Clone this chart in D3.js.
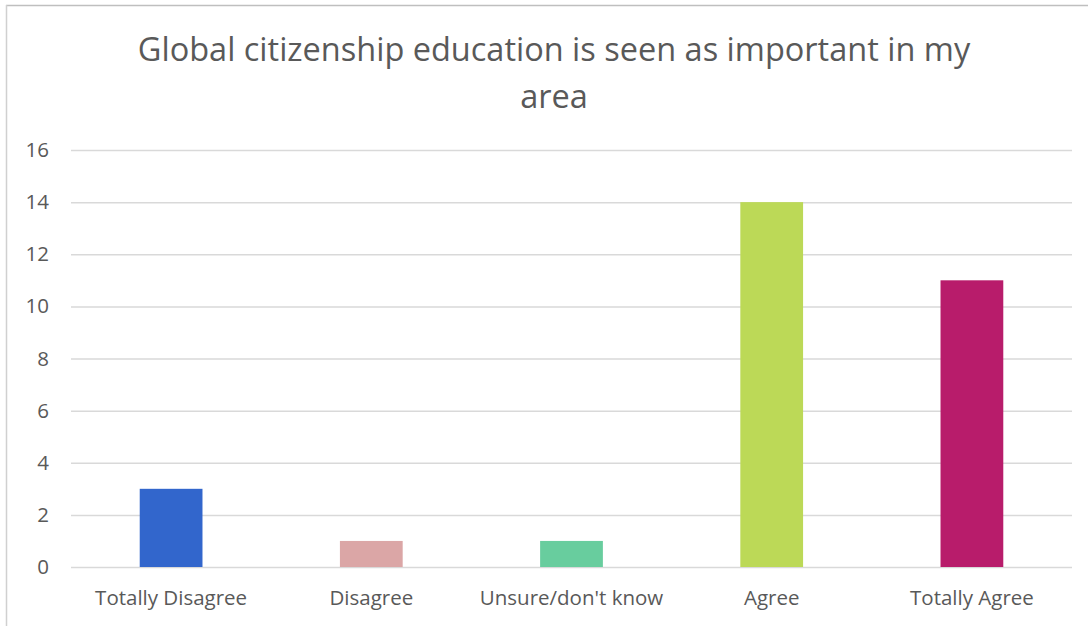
<!DOCTYPE html>
<html>
<head>
<meta charset="utf-8">
<script src="https://cdn.jsdelivr.net/npm/d3@7"></script>
<style>
  html, body { margin: 0; padding: 0; background: #fff; }
  svg { display: block; }
  svg text { font-family: "Open Sans", sans-serif; }
  .tick text { fill: #595959; font-size: 20.5px; }
  .grid line { stroke: #d9d9d9; stroke-width: 1.5; }
  .title { fill: #595959; font-size: 32.5px; }
</style>
</head>
<body>
<div id="chart"></div>
<script>
const categories = ['Totally Disagree', 'Disagree', "Unsure/don't know", 'Agree', 'Totally Agree'];
const counts = [3, 1, 1, 14, 11];
const barColors = ['#3266cc', '#dba6a6', '#68cd9e', '#bcd957', '#b81c6b'];
const yTicks = [0, 2, 4, 6, 8, 10, 12, 14, 16];
const titleLines = ['Global citizenship education is seen as important in my', 'area'];

const W = 1088, H = 626;
const margin = { top: 150, right: 16, bottom: 59, left: 71 };
const width = W - margin.left - margin.right;
const height = H - margin.top - margin.bottom;

const root = d3.select('#chart').append('svg')
  .attr('width', W)
  .attr('height', H);

// chart frame (only top and left edges are visible in the crop)
root.append('line').attr('x1', 6).attr('x2', W).attr('y1', 5.5).attr('y2', 5.5)
  .attr('stroke', '#bfbfbf').attr('stroke-width', 1.5);
root.append('line').attr('x1', 6.5).attr('x2', 6.5).attr('y1', 5).attr('y2', H)
  .attr('stroke', '#d0d0d0').attr('stroke-width', 1.5);

root.append('text')
  .attr('class', 'title')
  .attr('text-anchor', 'middle')
  .selectAll('tspan')
  .data(titleLines)
  .enter()
  .append('tspan')
  .attr('x', 554)
  .attr('y', (d, i) => 61 + i * 47)
  .text(d => d);

const svg = root.append('g')
  .attr('transform', 'translate(' + margin.left + ',' + margin.top + ')');

const x = d3.scaleBand()
  .domain(categories)
  .range([0, width]);

const y = d3.scaleLinear()
  .domain([0, 16])
  .range([height, 0]);

svg.append('g')
  .attr('class', 'grid')
  .call(d3.axisLeft(y).tickValues(yTicks).tickSize(-width).tickFormat(''))
  .call(g => g.select('.domain').remove());

svg.append('g')
  .call(d3.axisLeft(y).tickValues(yTicks).tickSize(0).tickPadding(22))
  .call(g => g.select('.domain').remove());

// Excel gap width ~219%
const barW = x.bandwidth() / 3.19;

svg.selectAll('rect.bar')
  .data(counts)
  .enter()
  .append('rect')
  .attr('class', 'bar')
  .attr('x', (d, i) => x(categories[i]) + x.bandwidth() / 2 - barW / 2)
  .attr('width', barW)
  .attr('y', d => y(d))
  .attr('height', d => height - y(d))
  .attr('fill', (d, i) => barColors[i]);

svg.append('g')
  .attr('transform', 'translate(0,' + height + ')')
  .call(d3.axisBottom(x).tickSize(0).tickPadding(23))
  .call(g => g.select('.domain').remove());
</script>
</body>
</html>
